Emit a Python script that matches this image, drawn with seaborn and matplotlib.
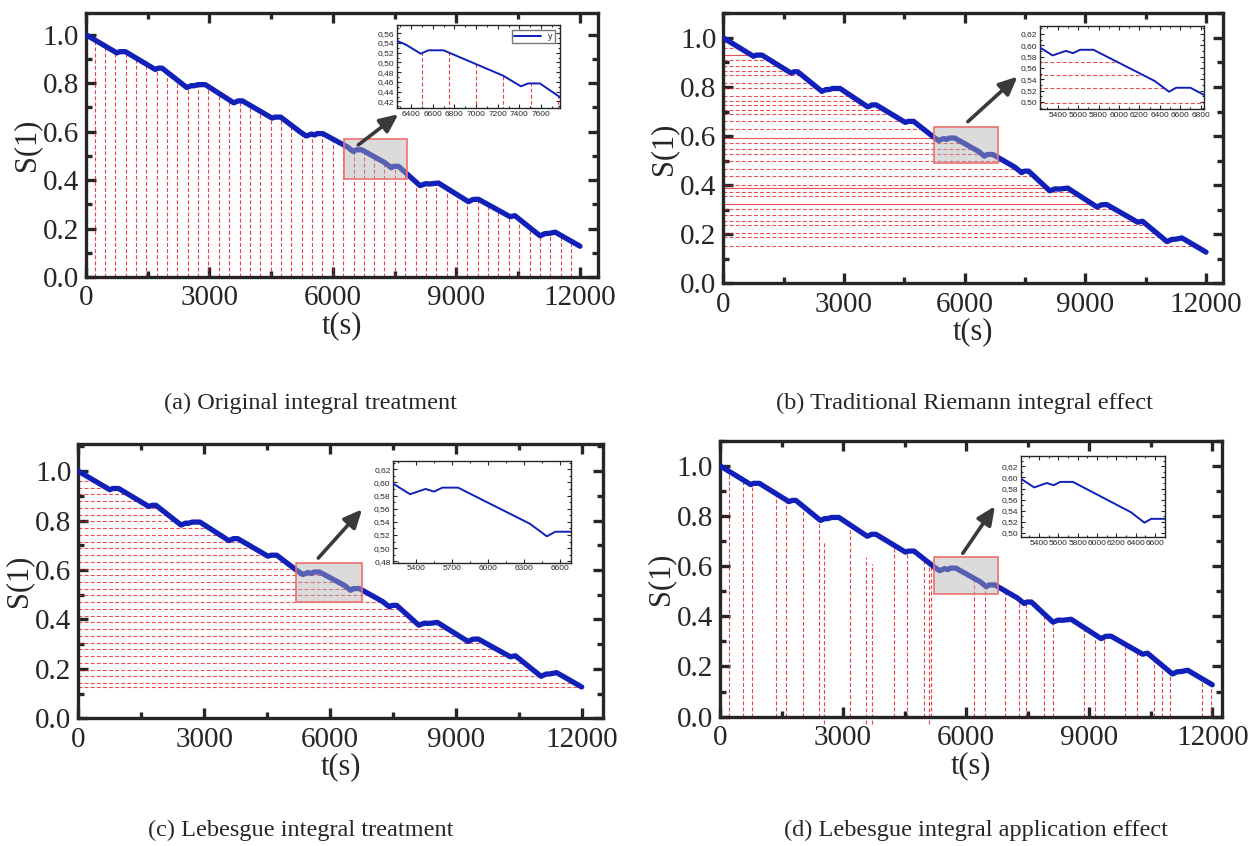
import numpy as np
import matplotlib
matplotlib.use("Agg")
import matplotlib.pyplot as plt
import matplotlib.patches as patches
from matplotlib.ticker import MultipleLocator, FuncFormatter, AutoMinorLocator
import seaborn as sns

# curva S(1) ao longo do tempo
t_key = [0, 750, 820, 960, 1680, 1760, 1850, 2450, 2560, 2620, 2720, 2900,
         3590, 3700, 3800, 4520, 4600, 4730, 5210, 5350, 5480, 5550, 5620,
         5750, 6350, 6490, 6560, 6700, 7250, 7415, 7480, 7590, 8115, 8250,
         8350, 8560, 9290, 9400, 9530, 10300, 10420, 11030, 11150, 11250,
         11400, 12000]
s_key = [1.000, 0.925, 0.930, 0.930, 0.857, 0.862, 0.862, 0.782, 0.790, 0.789,
         0.794, 0.794, 0.719, 0.727, 0.727, 0.656, 0.660, 0.660, 0.598, 0.582,
         0.590, 0.586, 0.592, 0.592, 0.537, 0.518, 0.525, 0.525, 0.473, 0.451,
         0.457, 0.457, 0.377, 0.385, 0.384, 0.388, 0.311, 0.320, 0.321, 0.249,
         0.253, 0.170, 0.179, 0.180, 0.185, 0.127]

# (a) linhas verticais
t_lines_a = [210, 460, 715, 965, 1215, 1470, 1720, 1970, 2220, 2475, 2725, 2975,
             3230, 3480, 3730, 3985, 4235, 4485, 4740, 4990, 5240, 5490, 5745,
             5995, 6245, 6500, 6750, 7000, 7250, 7505, 7755, 8005, 8260, 8510,
             8760, 9015, 9265, 9515, 9770, 10020, 10270, 10520, 10775, 11025,
             11275, 11530, 11780]

# (b) niveis horizontais (Riemann)
levels_b = [0.985, 0.958, 0.931, 0.911, 0.887, 0.864, 0.850, 0.816, 0.796,
            0.762, 0.742, 0.728, 0.708, 0.688, 0.660, 0.627, 0.593, 0.570,
            0.548, 0.525, 0.498, 0.464, 0.437, 0.399, 0.390, 0.372, 0.356,
            0.325, 0.302, 0.277, 0.254, 0.237, 0.207, 0.187, 0.152]
solid_b = [0.931, 0.593, 0.390, 0.325]

# (c) niveis horizontais (Lebesgue)
levels_c = [0.960, 0.932, 0.906, 0.879, 0.851, 0.824, 0.797, 0.770, 0.743,
            0.715, 0.688, 0.661, 0.634, 0.606, 0.579, 0.552, 0.524, 0.497,
            0.470, 0.443, 0.415, 0.388, 0.361, 0.333, 0.306, 0.279, 0.252,
            0.224, 0.197, 0.170, 0.143, 0.127]

# (d) linhas verticais irregulares
t_lines_d = [230, 550, 785, 1360, 1605, 2030, 2420, 3180, 4235, 4550, 4985,
             5150, 6200, 6450, 6955, 7290, 7470, 7895, 8110, 8880, 9145, 9350,
             9870, 10170, 10590, 10775, 10975, 11760, 11970]
t_part_d = [2541, 3566, 3705, 5107]
top_part_d = [0.700, 0.636, 0.609, 0.596]

captions = ["(a) Original integral treatment",
            "(b) Traditional Riemann integral effect",
            "(c) Lebesgue integral treatment",
            "(d) Lebesgue integral application effect"]

sns.set_style("ticks")
plt.rcParams['font.family'] = ['Liberation Serif', 'DejaVu Serif']

LINE = '#1020b8'
RED = '#e8202a'
DASH = (0, (3.5, 2))

t_key = np.array(t_key, dtype=float)
s_key = np.array(s_key)
tt = np.linspace(0, 12000, 12001)
ss = np.interp(tt, t_key, s_key)


def t_at(level):
    idx = np.argmax(ss <= level)
    return tt[idx] if ss[idx] <= level else 12000


def comma(v, p):
    return ("%.2f" % v).replace('.', ',')


def setup_main(ax, xmax, ymax):
    ax.set_xlim(0, xmax)
    ax.set_ylim(0, ymax)
    ax.xaxis.set_major_locator(MultipleLocator(3000))
    ax.xaxis.set_minor_locator(MultipleLocator(1500))
    ax.yaxis.set_major_locator(MultipleLocator(0.2))
    ax.yaxis.set_minor_locator(MultipleLocator(0.1))
    ax.yaxis.set_major_formatter(FuncFormatter(lambda v, p: "%.1f" % v))
    ax.tick_params(which='both', direction='in', top=True, right=True, width=2.4,
                   labelsize=21)
    ax.tick_params(axis='x', which='major', pad=6)
    ax.tick_params(axis='y', which='major', pad=5)
    ax.tick_params(which='major', length=7.5)
    ax.tick_params(which='minor', length=4)
    for sp in ax.spines.values():
        sp.set_linewidth(2.4)
    ax.set_xlabel('t(s)', fontsize=22, labelpad=0)
    ax.set_ylabel('S(1)', fontsize=22, labelpad=1)


def setup_inset(ax, xlim, ylim, xstep):
    ax.set_xlim(*xlim)
    ax.set_ylim(*ylim)
    ax.xaxis.set_major_locator(MultipleLocator(xstep))
    ax.yaxis.set_major_locator(MultipleLocator(0.02))
    ax.xaxis.set_minor_locator(AutoMinorLocator(2))
    ax.yaxis.set_minor_locator(AutoMinorLocator(2))
    ax.yaxis.set_major_formatter(FuncFormatter(comma))
    ax.tick_params(which='both', direction='in', top=True, right=True, width=0.8,
                   labelsize=6, pad=2, labelfontfamily='Liberation Sans')
    ax.tick_params(which='major', length=3)
    ax.tick_params(which='minor', length=1.5)
    for sp in ax.spines.values():
        sp.set_linewidth(1.0)
    ax.set_xlabel('')
    ax.set_ylabel('')


def zoom_box(ax, x0, y0, x1, y1, tail, head):
    ax.add_patch(patches.Rectangle((x0, y0), x1 - x0, y1 - y0, facecolor='#b0b0b0',
                                   alpha=0.45, edgecolor='none', zorder=5))
    ax.add_patch(patches.Rectangle((x0, y0), x1 - x0, y1 - y0, facecolor='none',
                                   edgecolor='#f07070', lw=1.2, zorder=6))
    ax.annotate('', xy=head, xytext=tail, zorder=7,
                arrowprops=dict(arrowstyle='-|>,head_length=1.1,head_width=0.5',
                                color='#3a3a3a', lw=2.6))


fig = plt.figure(figsize=(12.53, 8.46), dpi=100)
pos_main = [[0.0686, 0.6726, 0.4086, 0.3121], [0.5773, 0.6651, 0.3988, 0.3191],
            [0.0625, 0.1509, 0.4185, 0.3243], [0.5746, 0.1529, 0.4004, 0.3262]]
pos_in = [[0.3166, 0.8720, 0.1303, 0.0985], [0.8300, 0.8708, 0.1309, 0.0985],
          [0.3139, 0.3349, 0.1416, 0.1206], [0.8146, 0.3649, 0.1152, 0.0961]]
xmaxs = [12436, 12423, 12500, 12229]
ymaxs = [1.09, 1.10, 1.11, 1.10]
in_xlims = [(6268, 7775), (5227, 6833), (5211, 6689), (5210, 6703)]
in_ylims = [(0.406, 0.577), (0.487, 0.634), (0.478, 0.633), (0.4915, 0.639)]
in_xsteps = [200, 200, 300, 200]
boxes = [(6280, 0.405, 7800, 0.570), (5237, 0.491, 6818, 0.638),
         (5200, 0.470, 6762, 0.630), (5228, 0.490, 6765, 0.638)]
tails = [(6561, 0.538), (6027, 0.651), (5676, 0.640), (5882, 0.642)]
heads = [(7641, 0.679), (7364, 0.850), (6810, 0.854), (6740, 0.848)]
cap_pos = [(311, 403), (965, 403), (301, 830), (976, 830)]

for i in range(4):
    ax = fig.add_axes(pos_main[i])
    axi = fig.add_axes(pos_in[i])

    if i == 0:
        tops = np.interp(t_lines_a, t_key, s_key)
        for a in (ax, axi):
            a.vlines(t_lines_a, 0, tops, color=RED, lw=0.8, ls=DASH, alpha=0.85, zorder=2)
    elif i == 1:
        for lv in levels_b:
            style = '-' if lv in solid_b else DASH
            for a in (ax, axi):
                a.hlines(lv, 0, t_at(lv), color=RED, lw=0.8, ls=style, alpha=0.8, zorder=2)
    elif i == 2:
        for lv in levels_c:
            ax.hlines(lv, 0, t_at(lv), color=RED, lw=0.8, ls=DASH, alpha=0.8, zorder=2)
    else:
        tops = np.interp(t_lines_d, t_key, s_key)
        ax.vlines(t_lines_d, 0, tops, color=RED, lw=0.8, ls=DASH, alpha=0.85, zorder=2)
        ax.vlines(t_part_d, -0.03, top_part_d, color=RED, lw=0.8, ls=DASH, alpha=0.85,
                  zorder=2, clip_on=False)

    sns.lineplot(x=t_key, y=s_key, ax=ax, color=LINE, lw=3.8, zorder=3)
    setup_main(ax, xmaxs[i], ymaxs[i])
    zoom_box(ax, *boxes[i], tails[i], heads[i])

    sns.lineplot(x=t_key, y=s_key, ax=axi, color=LINE, lw=1.4, zorder=3,
                 label='y' if i == 0 else None)
    setup_inset(axi, in_xlims[i], in_ylims[i], in_xsteps[i])
    if i == 0:
        axi.legend(loc='upper right', fancybox=False, edgecolor='#555555',
                   handlelength=3, borderpad=0.2, borderaxespad=0.6,
                   prop={'family': 'Liberation Sans', 'size': 6.5})
    elif axi.get_legend() is not None:
        axi.get_legend().remove()

    cx, cy = cap_pos[i]
    fig.text(cx / 1253, 1 - cy / 846, captions[i], ha='center', va='center', fontsize=17.5)

fig.savefig("out.png", dpi=100)
